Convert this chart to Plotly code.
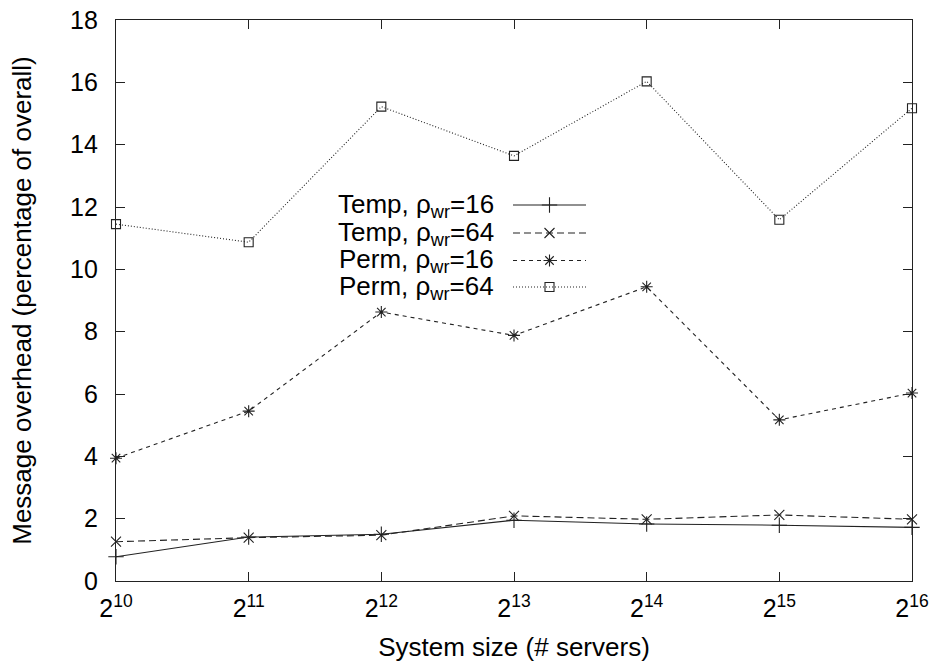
import plotly.graph_objects as go

exponents = [10, 11, 12, 13, 14, 15, 16]
tick_labels = [f"2<sup>{e}</sup>" for e in exponents]

temp16 = [0.78, 1.41, 1.50, 1.95, 1.83, 1.79, 1.72]
temp64 = [1.26, 1.39, 1.47, 2.09, 1.98, 2.12, 1.98]
perm16 = [3.94, 5.45, 8.63, 7.88, 9.44, 5.17, 6.03]
perm64 = [11.45, 10.87, 15.22, 13.64, 16.03, 11.59, 15.17]

series = [
    ("Temp, ρ<sub>wr</sub>=16", temp16, "solid", "cross-thin-open", 11),
    ("Temp, ρ<sub>wr</sub>=64", temp64, "7px,4px", "x-thin-open", 10),
    ("Perm, ρ<sub>wr</sub>=16", perm16, "4px,4px", "asterisk-open", 10),
    ("Perm, ρ<sub>wr</sub>=64", perm64, "1px,2px", "square-open", 9),
]

FONT = "Liberation Sans, Arial, sans-serif"
INK = "#222222"

fig = go.Figure()
for name, vals, dash, sym, ms in series:
    fig.add_trace(go.Scatter(
        x=exponents, y=vals, mode="lines+markers", name=name,
        line=dict(color=INK, width=1.1, dash=dash),
        marker=dict(symbol=sym, size=ms, color=INK, line=dict(width=1.1, color=INK)),
        showlegend=False, cliponaxis=False,
    ))

# legend drawn in an overlay pixel-coordinate axis
leg_rows = [205, 233, 260.5, 287]
for (name, vals, dash, sym, ms), yy in zip(series, leg_rows):
    fig.add_trace(go.Scatter(
        x=[513, 586], y=[yy, yy], mode="lines", xaxis="x2", yaxis="y2",
        line=dict(color=INK, width=1.1, dash=dash), showlegend=False, hoverinfo="skip",
    ))
    fig.add_trace(go.Scatter(
        x=[549.5], y=[yy], mode="markers", xaxis="x2", yaxis="y2",
        marker=dict(symbol=sym, size=ms, color=INK, line=dict(width=1.1, color=INK)),
        showlegend=False, hoverinfo="skip",
    ))
    fig.add_annotation(x=496, y=yy, xref="x2", yref="y2", text=name, showarrow=False,
                       xanchor="right", yanchor="middle",
                       font=dict(family=FONT, size=26, color="black"))

axis_common = dict(
    showline=True, linecolor=INK, linewidth=1.2, mirror="allticks",
    ticks="inside", ticklen=9, tickwidth=1.2, tickcolor=INK,
    showgrid=False, zeroline=False, automargin=False,
    tickfont=dict(family=FONT, size=25, color="black"),
)

fig.update_layout(
    width=933, height=662,
    margin=dict(l=116, r=21, t=20, b=81),
    plot_bgcolor="white", paper_bgcolor="white",
    xaxis=dict(range=[10, 16], tickvals=exponents, ticktext=tick_labels,
               ticklabelstandoff=5,
               title=dict(text="System size (# servers)", standoff=20,
                          font=dict(family=FONT, size=26, color="black")),
               **axis_common),
    yaxis=dict(range=[0, 18], tickvals=list(range(0, 19, 2)),
               ticklabelstandoff=12,
               title=dict(text="Message overhead (percentage of overall)", standoff=30,
                          font=dict(family=FONT, size=26, color="black")),
               **axis_common),
    xaxis2=dict(range=[116, 912], overlaying="x", visible=False, fixedrange=True),
    yaxis2=dict(range=[581, 20], overlaying="y", visible=False, fixedrange=True),
)

fig.write_html("out.html")
